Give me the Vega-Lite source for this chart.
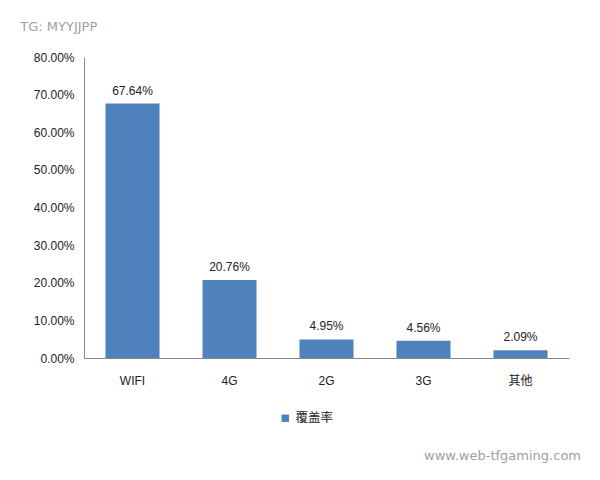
{
  "$schema": "https://vega.github.io/schema/vega-lite/v6.json",
  "background": "white",
  "padding": {"left": 20, "top": 21, "right": 5, "bottom": 5},
  "title": {"text": "TG: MYYJJPP", "anchor": "start", "fontSize": 13, "color": "#a0a0a0", "font": "DejaVu Sans", "fontWeight": "normal", "offset": 17, "dx": -13},
  "data": {"values": [
    {"category": "WIFI", "value": 0.6764, "series": "覆盖率"},
    {"category": "4G", "value": 0.2076, "series": "覆盖率"},
    {"category": "2G", "value": 0.0495, "series": "覆盖率"},
    {"category": "3G", "value": 0.0456, "series": "覆盖率"},
    {"category": "其他", "value": 0.0209, "series": "覆盖率"}
  ]},
  "vconcat": [{
    "width": 485,
    "height": 301,
    "title": {"text": "www.web-tfgaming.com", "orient": "bottom", "anchor": "end", "fontSize": 13, "color": "#a0a0a0", "font": "DejaVu Sans", "fontWeight": "normal", "offset": 64, "dx": 12},
    "encoding": {
      "x": {"field": "category", "type": "nominal", "sort": null,
        "scale": {"paddingInner": 0.443, "paddingOuter": 0.2215},
        "axis": {"title": null, "labelAngle": 0, "ticks": false, "tickSize": 0, "labelPadding": 17, "domainColor": "#868686", "labelFontSize": 12, "labelFont": "Liberation Sans, Noto Sans CJK SC", "labelColor": "#222"}},
      "y": {"field": "value", "type": "quantitative",
        "scale": {"domain": [0, 0.8], "nice": false},
        "axis": {"title": null, "values": [0, 0.1, 0.2, 0.3, 0.4, 0.5, 0.6, 0.7, 0.8], "format": ".2%", "grid": false, "ticks": false, "tickSize": 0, "labelPadding": 10, "domainColor": "#868686", "labelFontSize": 12, "labelFont": "Liberation Sans", "labelColor": "#222"}}
    },
    "layer": [
      {"mark": {"type": "bar"},
       "encoding": {
         "color": {"field": "series", "type": "nominal", "scale": {"range": ["#4f81bd"]},
           "legend": {"title": null, "orient": "none", "legendX": 195, "legendY": 355, "symbolType": "square", "symbolSize": 55, "symbolStrokeWidth": 0, "labelFontSize": 12.5, "labelFont": "Noto Sans CJK SC", "labelColor": "#222"}}
       }},
      {"mark": {"type": "text", "baseline": "alphabetic", "dy": -9, "fontSize": 12, "font": "Liberation Sans", "color": "#222"},
       "encoding": {"text": {"field": "value", "type": "quantitative", "format": ".2%"}}}
    ]
  }],
  "config": {"view": {"stroke": null}}
}
